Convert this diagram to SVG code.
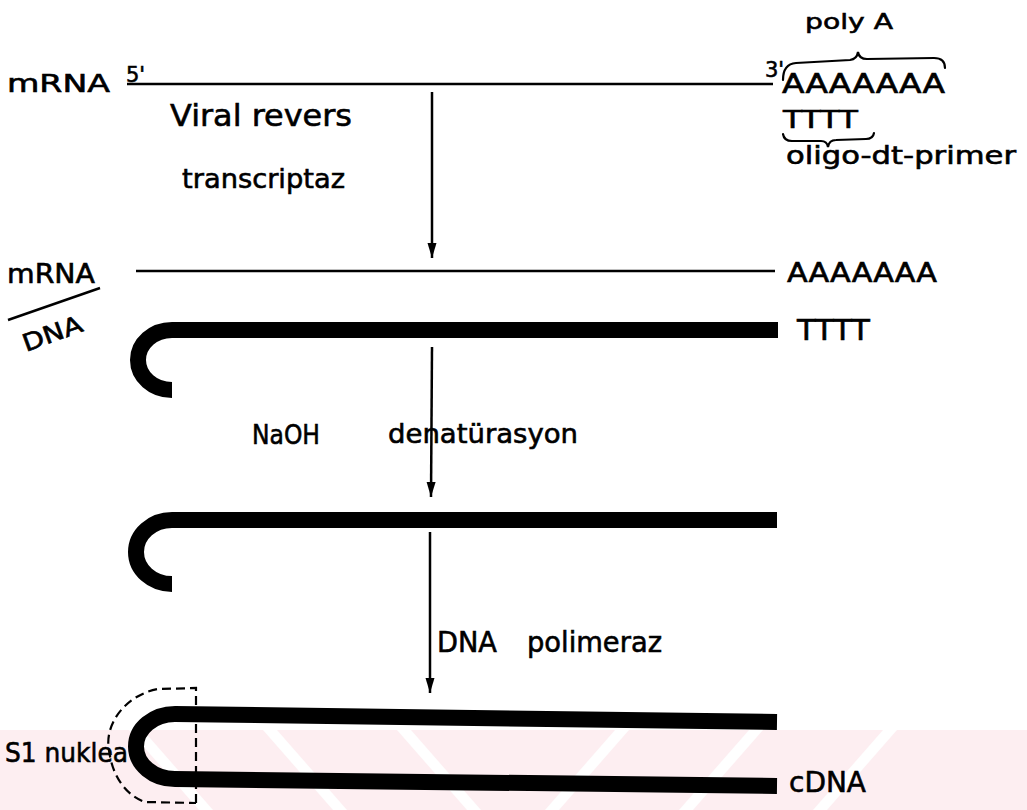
<svg xmlns="http://www.w3.org/2000/svg" width="1027" height="810" viewBox="0 0 1027 810">
  <style>
    .lbl { font-family: "DejaVu Sans", "Liberation Sans", sans-serif; fill: #000; stroke: #000; stroke-width: 0.6; }
    .thin { stroke: #000; stroke-width: 2.5; fill: none; }
    .thick { stroke: #000; stroke-width: 16; fill: none; stroke-linejoin: round; }
    .arrow { stroke: #000; stroke-width: 2.5; fill: none; marker-end: url(#head); }
    .brace { stroke: #000; stroke-width: 2.2; fill: none; stroke-linecap: round; }
    .dash { stroke: #000; stroke-width: 2.2; fill: none; stroke-dasharray: 9 5; }
  </style>
  <defs>
    <marker id="head" markerWidth="16" markerHeight="10" refX="15" refY="5" orient="auto" markerUnits="userSpaceOnUse" viewBox="0 0 16 10">
      <path d="M0,0.5 L15,5 L0,9.5 Z" fill="#000"/>
    </marker>
  </defs>

  <rect width="1027" height="810" fill="#fff"/>

  <!-- background band with diagonal stripes -->
  <g id="band">
    <rect x="0" y="730" width="1027" height="80" fill="#fdeef1"/>
    <g fill="#fff">
      <polygon points="129,730 143,730 213,810 199,810"/>
      <polygon points="263,730 277,730 347,810 333,810"/>
      <polygon points="397,730 411,730 481,810 467,810"/>
      <polygon points="615,730 629,730 559,810 545,810"/>
      <polygon points="749,730 763,730 693,810 679,810"/>
      <polygon points="883,730 897,730 827,810 813,810"/>
    </g>
  </g>

  <!-- step 1: mRNA with poly-A tail and oligo-dT primer -->
  <g id="mrna-1">
    <text class="lbl" x="7" y="92" font-size="24" textLength="103" lengthAdjust="spacingAndGlyphs">mRNA</text>
    <text class="lbl" x="126" y="82" font-size="21">5'</text>
    <line class="thin" x1="127" y1="84" x2="773" y2="84"/>
    <text class="lbl" x="765" y="77" font-size="21">3'</text>
  </g>
  <g id="polyA">
    <text class="lbl" x="805" y="29" font-size="22" textLength="88" lengthAdjust="spacingAndGlyphs">poly A</text>
    <path class="brace" d="M783,80 Q783,64 796,63 L850,60 Q857,59 858,52 Q859,59 867,59 L934,58 Q945,58 945,68"/>
    <text class="lbl" x="782" y="93" font-size="27" textLength="163" lengthAdjust="spacingAndGlyphs">AAAAAAA</text>
  </g>
  <g id="primer">
    <text class="lbl" x="783" y="128" font-size="25" textLength="75" lengthAdjust="spacingAndGlyphs">TTTT</text>
    <path class="brace" d="M783,134 Q784,141 792,141 L821,141 Q827,141 828,147 Q829,140 836,140 L866,139 Q873,139 874,133"/>
    <text class="lbl" x="786" y="164" font-size="25" textLength="230" lengthAdjust="spacingAndGlyphs">oligo-dt-primer</text>
  </g>
  <g id="enzyme-1">
    <text class="lbl" x="170" y="126" font-size="31" textLength="182" lengthAdjust="spacingAndGlyphs">Viral revers</text>
    <text class="lbl" x="182" y="188" font-size="27" textLength="163" lengthAdjust="spacingAndGlyphs">transcriptaz</text>
  </g>

  <!-- step 2: mRNA / DNA hybrid -->
  <g id="hybrid">
    <text class="lbl" x="7" y="283" font-size="26" textLength="88" lengthAdjust="spacingAndGlyphs">mRNA</text>
    <line class="thin" x1="8" y1="320" x2="100" y2="288"/>
    <text class="lbl" x="0" y="0" font-size="24" textLength="62" lengthAdjust="spacingAndGlyphs" transform="translate(26,352) rotate(-20)">DNA</text>
    <line class="thin" x1="136" y1="271" x2="775" y2="271"/>
    <text class="lbl" x="787" y="282" font-size="27" textLength="150" lengthAdjust="spacingAndGlyphs">AAAAAAA</text>
    <path class="thick" d="M778,330 L172,330 A34,30 0 0 0 138,360 A34,30 0 0 0 172,390"/>
    <text class="lbl" x="797" y="340" font-size="29" textLength="73" lengthAdjust="spacingAndGlyphs">TTTT</text>
  </g>
  <g id="enzyme-2">
    <text class="lbl" x="252" y="444" font-size="27" textLength="68" lengthAdjust="spacingAndGlyphs">NaOH</text>
    <text class="lbl" x="388" y="443" font-size="27" textLength="190" lengthAdjust="spacingAndGlyphs">denatürasyon</text>
  </g>

  <!-- step 3: single-strand DNA with hairpin -->
  <g id="ssdna">
    <path class="thick" d="M777,520 L172,520 A36,32 0 0 0 136,552 A36,32 0 0 0 172,584"/>
  </g>
  <g id="enzyme-3">
    <text class="lbl" x="437" y="652" font-size="28" textLength="60" lengthAdjust="spacingAndGlyphs">DNA</text>
    <text class="lbl" x="527" y="652" font-size="28" textLength="135" lengthAdjust="spacingAndGlyphs">polimeraz</text>
  </g>

  <!-- step 4: double-strand hairpin, S1 nuclease cut site -->
  <g id="dsdna">
    <path class="thick" d="M777,722 L175,714 A39,32.5 0 0 0 136,746.5 A39,32.5 0 0 0 175,779 L777,786"/>
    <text class="lbl" x="789" y="792" font-size="28" textLength="77" lengthAdjust="spacingAndGlyphs">cDNA</text>
  </g>
  <g id="s1">
    <path class="dash" d="M196,803 L196,688 L158,689 C125,695 104,725 109,750 C112,775 125,795 145,802 L196,803"/>
    <text class="lbl" x="5" y="762" font-size="27" textLength="123" lengthAdjust="spacingAndGlyphs">S1 nuklea</text>
  </g>

  <!-- reaction arrows -->
  <g id="connectors">
    <line class="arrow" x1="432" y1="92" x2="432" y2="258"/>
    <line class="arrow" x1="432" y1="347" x2="431" y2="497"/>
    <line class="arrow" x1="430" y1="532" x2="430" y2="693"/>
  </g>
</svg>
